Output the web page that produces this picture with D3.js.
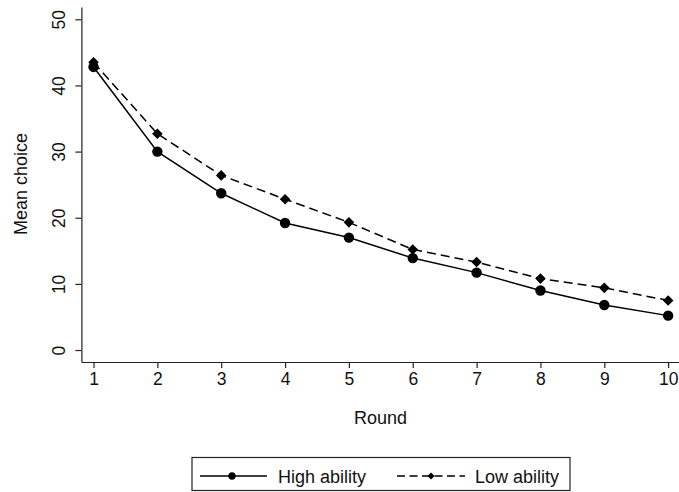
<!DOCTYPE html>
<html><head><meta charset="utf-8">
<script src="https://cdn.jsdelivr.net/npm/d3@7"></script>
<style>
html,body{margin:0;padding:0;background:#fff;}
svg{display:block;font-family:"Liberation Sans",Arial,sans-serif;}
</style></head>
<body>
<svg id="chart" width="679" height="492"></svg>
<script>
const rounds = [1,2,3,4,5,6,7,8,9,10];
const highAbility = [42.8,30.0,23.7,19.2,17.0,13.9,11.7,9.0,6.8,5.2];
const lowAbility  = [43.5,32.7,26.4,22.8,19.3,15.2,13.3,10.8,9.4,7.5];
const yTicks = [0,10,20,30,40,50];
const seriesNames = ["High ability","Low ability"];

const svg = d3.select("#chart");
const x = d3.scaleLinear().domain([0.81,10.17]).range([81.4,679]);
const y = d3.scaleLinear().domain([-1.81,51.86]).range([362,7]);

// axes
const xAxis = svg.append("g").attr("transform","translate(0,362)")
  .call(d3.axisBottom(x).tickValues(rounds).tickSize(6).tickSizeOuter(0).tickPadding(5));
const yAxis = svg.append("g").attr("transform","translate(81.4,0)")
  .call(d3.axisLeft(y).tickValues(yTicks).tickSize(6).tickSizeOuter(0).tickPadding(4));
[xAxis,yAxis].forEach(g=>{
  g.selectAll("path,line").attr("stroke","#222").attr("stroke-width",1.2);
  g.selectAll("text").attr("fill","#111").style("font-size","17.5px").style("font-family","Liberation Sans, Arial, sans-serif");
});
yAxis.selectAll(".tick text")
  .attr("transform","rotate(-90)")
  .attr("x",0).attr("y",-16)
  .attr("dy","0")
  .attr("text-anchor","middle");

// axis titles
svg.append("text").attr("x",380.5).attr("y",424).attr("text-anchor","middle")
  .style("font-size","18px").attr("fill","#111").text("Round");
svg.append("text").attr("transform","translate(26.5,184) rotate(-90)").attr("text-anchor","middle")
  .style("font-size","18px").attr("fill","#111").text("Mean choice");

// lines
const line = d3.line().x((d,i)=>x(rounds[i])).y(d=>y(d));
svg.append("path").datum(highAbility).attr("d",line).attr("fill","none")
  .attr("stroke","#000").attr("stroke-width",1.5);
svg.append("path").datum(lowAbility).attr("d",line).attr("fill","none")
  .attr("stroke","#000").attr("stroke-width",1.5).attr("stroke-dasharray","9,5");

const circ = d3.symbol().type(d3.symbolCircle);
const sq = d3.symbol().type(d3.symbolSquare);
svg.append("g").selectAll("path").data(lowAbility).join("path")
  .attr("transform",(d,i)=>`translate(${x(rounds[i])},${y(d)}) rotate(45)`)
  .attr("d",sq.size(56)()).attr("fill","#000");
svg.append("g").selectAll("path").data(highAbility).join("path")
  .attr("transform",(d,i)=>`translate(${x(rounds[i])},${y(d)})`)
  .attr("d",circ.size(85)()).attr("fill","#000");

// legend
const lg = svg.append("g");
lg.append("rect").attr("x",192).attr("y",457.5).attr("width",378).attr("height",33)
  .attr("fill","#fff").attr("stroke","#222").attr("stroke-width",1.2);
const ly = 476;
lg.append("line").attr("x1",200).attr("x2",267).attr("y1",ly).attr("y2",ly).attr("stroke","#000").attr("stroke-width",1.5);
lg.append("path").attr("transform",`translate(232,${ly})`).attr("d",circ.size(42)()).attr("fill","#000");
lg.append("text").attr("x",278).attr("y",482.5).style("font-size","18px").attr("fill","#111").text(seriesNames[0]);
lg.append("line").attr("x1",397).attr("x2",465).attr("y1",ly).attr("y2",ly).attr("stroke","#000").attr("stroke-width",1.5).attr("stroke-dasharray","8,4.5");
lg.append("path").attr("transform",`translate(431,${ly}) rotate(45)`).attr("d",sq.size(25)()).attr("fill","#000");
lg.append("text").attr("x",475).attr("y",482.5).style("font-size","18px").attr("fill","#111").text(seriesNames[1]);
</script>
</body></html>
